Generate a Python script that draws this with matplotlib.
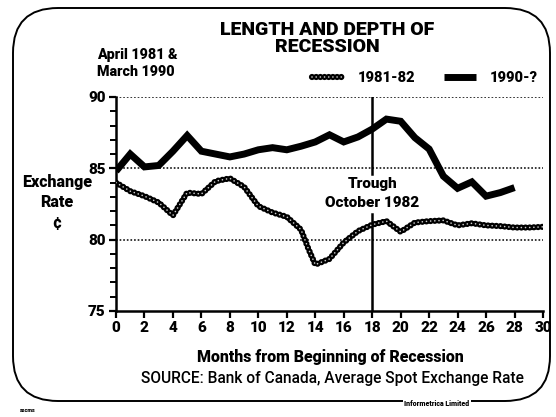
import numpy as np
import matplotlib.pyplot as plt
from matplotlib.patches import FancyBboxPatch

plt.rcParams['font.family'] = ['Roboto', 'Liberation Sans', 'DejaVu Sans']
plt.rcParams['font.weight'] = 'black'
plt.rcParams['lines.scale_dashes'] = False

# 1981-82 recession (months from April 1981)
months_81 = [0, 1, 2, 3, 4, 5, 6, 7, 8, 9, 10, 11, 12, 13, 13.5, 14, 15, 16, 17, 18,
             19, 20, 21, 22, 23, 24, 25, 26, 27, 28, 29, 30]
rate_81 = [84.0, 83.4, 83.05, 82.6, 81.7, 83.3, 83.2, 84.1, 84.3, 83.7, 82.35, 81.9,
           81.6, 80.7, 79.4, 78.25, 78.65, 79.8, 80.6, 81.05, 81.3, 80.55, 81.2, 81.3,
           81.35, 81.0, 81.15, 81.0, 80.95, 80.85, 80.85, 80.9]

# 1990-? recession (months from March 1990)
months_90 = list(range(0, 29))
rate_90 = [84.8, 86.0, 85.1, 85.2, 86.2, 87.3, 86.2, 86.0, 85.8, 86.0, 86.3, 86.45,
           86.3, 86.55, 86.85, 87.35, 86.85, 87.2, 87.75, 88.45, 88.3, 87.15, 86.35,
           84.45, 83.6, 84.05, 83.05, 83.3, 83.65]

grid_levels = [80, 85, 90]
trough_month = 18

W, H = 556, 417
fig = plt.figure(figsize=(W / 100, H / 100), dpi=100)

# page layer in pixel coordinates: frame and loose text
bg = fig.add_axes([0, 0, 1, 1], zorder=0)
bg.set_xlim(0, W)
bg.set_ylim(H, 0)
bg.axis('off')
bg.add_patch(FancyBboxPatch((13, 8), 537, 393, boxstyle="round,pad=0,rounding_size=45",
                            fill=False, lw=1.4, ec='black'))
bg.text(327, 30, "LENGTH AND DEPTH OF", ha='center', va='center', fontsize=14)
bg.text(327, 47, "RECESSION", ha='center', va='center', fontsize=14)
bg.text(97, 55, "April 1981 &", ha='left', va='center', fontsize=10.3)
bg.text(97, 72, "March 1990", ha='left', va='center', fontsize=10.3)
bg.text(57, 182, "Exchange", ha='center', va='center', fontsize=11.5)
bg.text(57, 202, "Rate", ha='center', va='center', fontsize=11.5)
bg.text(57, 223, "¢", ha='center', va='center', fontsize=11.5)
bg.text(373, 184, "Trough", ha='center', va='center', fontsize=11)
bg.text(372, 203, "October 1982", ha='center', va='center', fontsize=11)
bg.text(330, 357, "Months from Beginning of Recession", ha='center', va='center',
        fontsize=11.4)
bg.text(332, 379, "SOURCE: Bank of Canada, Average Spot Exchange Rate", ha='center',
        va='center', fontsize=11.2, fontweight='medium')
bg.text(437, 404, "Informetrica Limited", ha='center', va='center', fontsize=5,
        bbox=dict(fc='white', ec='none', pad=1))
bg.text(28, 411, "sscms", ha='center', va='center', fontsize=4)

ax = fig.add_axes([116 / W, 1 - 311 / H, (543 - 116) / W, (311 - 97) / H], zorder=1)
ax.patch.set_alpha(0)
ax.set_xlim(0, 30)
ax.set_ylim(75, 90)
for s in ['top', 'right']:
    ax.spines[s].set_visible(False)
for s in ['left', 'bottom']:
    ax.spines[s].set_linewidth(1.8)

ax.set_xticks(range(0, 31, 2))
ax.set_yticks([75, 80, 85, 90])
ax.set_yticks(range(75, 91), minor=True)
ax.tick_params(axis='both', which='major', length=5, width=1.6, labelsize=11, pad=2.5)
ax.tick_params(axis='y', which='minor', length=4, width=1.4)
for lab in ax.get_xticklabels() + ax.get_yticklabels():
    lab.set_fontweight('black')

for g in grid_levels:
    ax.axhline(g, color='black', lw=1.1, linestyle=(0, (1.2, 1.4)), zorder=1)

ax.plot([trough_month, trough_month], [90, 84.6], color='black', lw=1.8, zorder=2)
ax.plot([trough_month, trough_month], [81.8, 75], color='black', lw=1.8, zorder=2)

bead_out, = ax.plot(months_81, rate_81, color='black', lw=4.5, linestyle=(0, (0.01, 3.0)),
                    dash_capstyle='round', zorder=3)
bead_in, = ax.plot(months_81, rate_81, color='#d0d0d0', lw=1.2, linestyle=(0, (0.01, 3.0)),
                   dash_capstyle='round', zorder=4)
line90, = ax.plot(months_90, rate_90, color='black', lw=5.0, solid_capstyle='butt',
                  solid_joinstyle='miter', zorder=3)

ax.legend([(bead_out, bead_in), line90], ["1981-82", "1990-?"], ncol=2, frameon=False,
          loc='center', bbox_to_anchor=(425 / W, 1 - 78 / H),
          bbox_transform=fig.transFigure, fontsize=10.5, handlelength=2.2,
          handletextpad=0.9, columnspacing=2.0)

fig.savefig('out.png', dpi=100)
